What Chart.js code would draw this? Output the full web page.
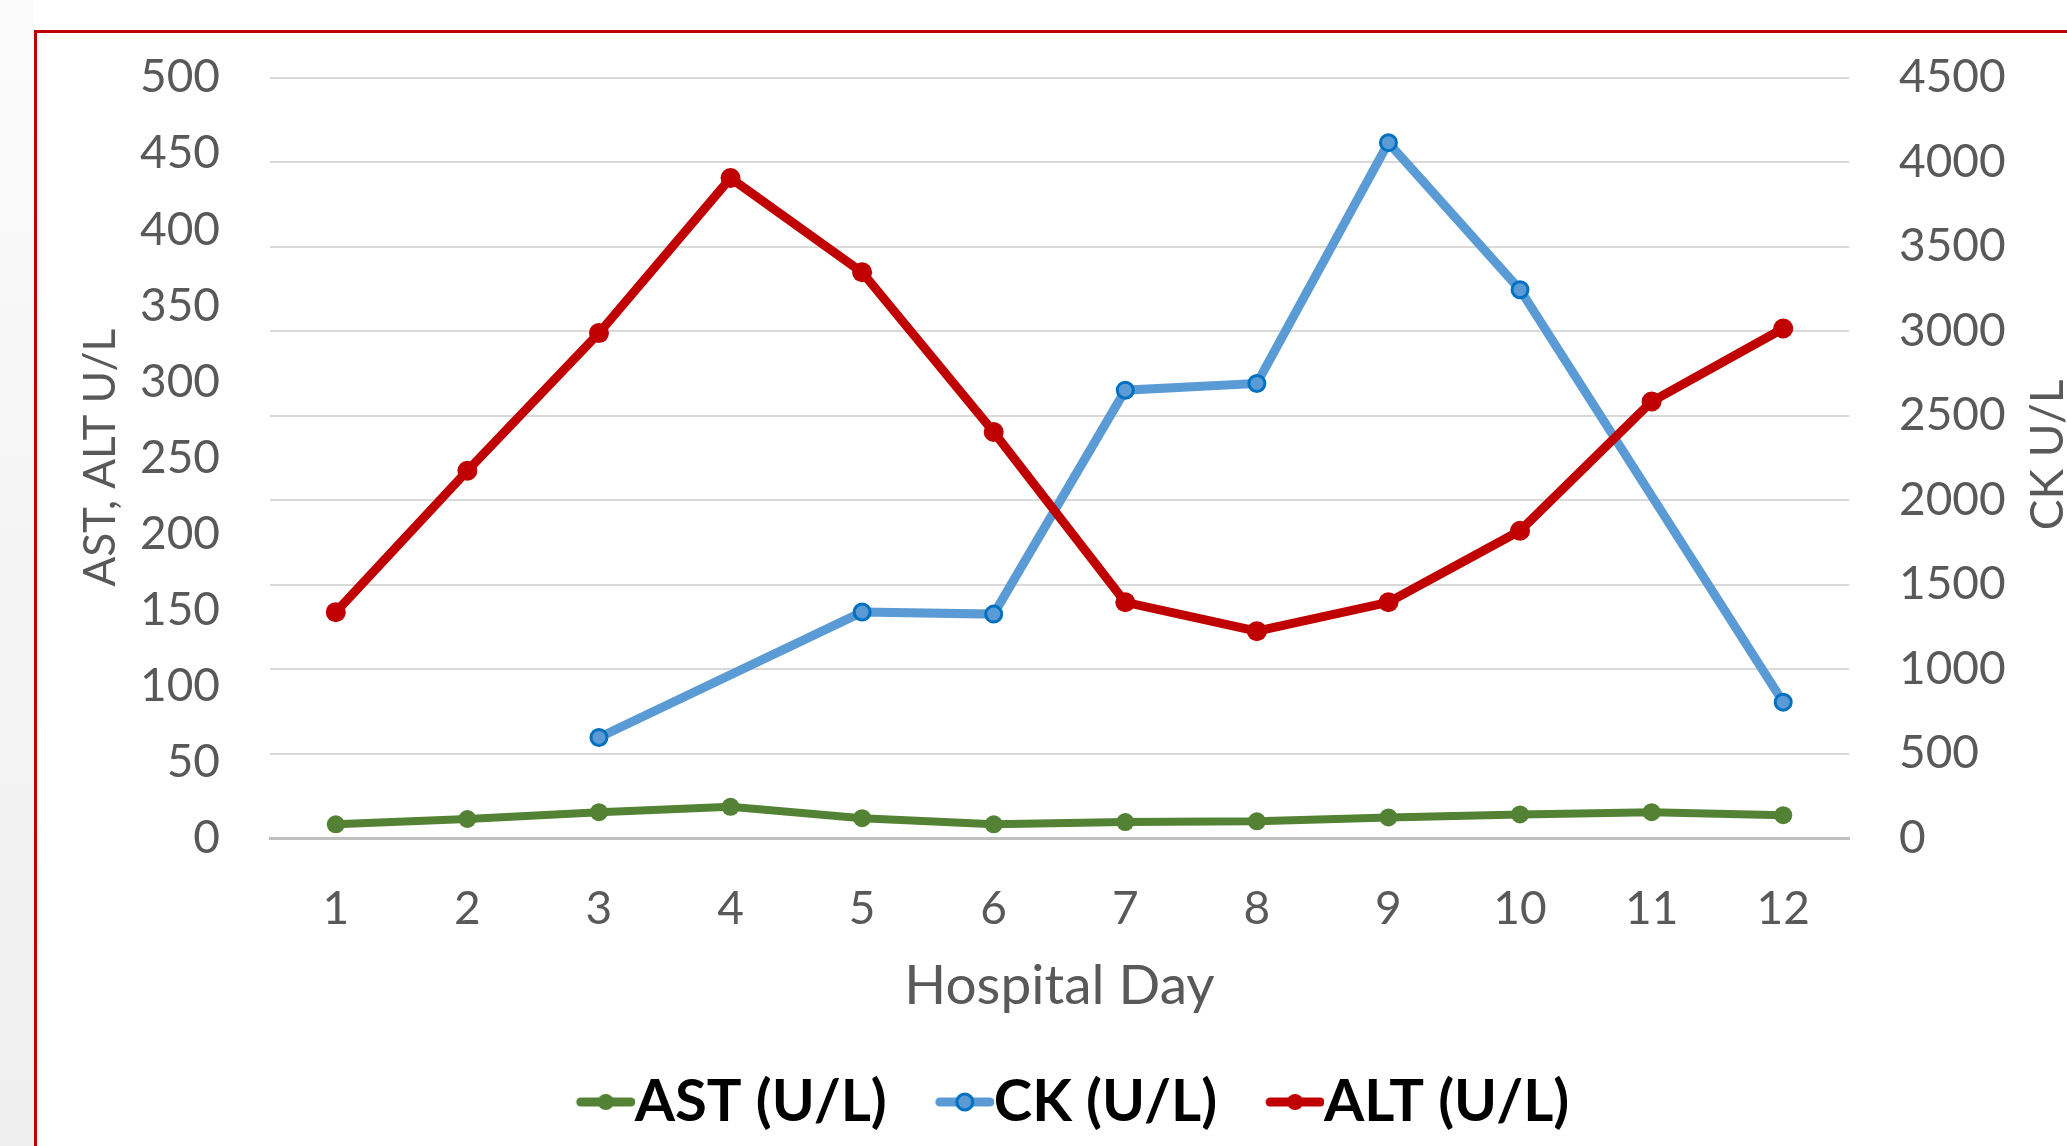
<!DOCTYPE html>
<html>
<head>
<meta charset="utf-8">
<script src="https://cdn.jsdelivr.net/npm/chart.js@4.4.1/dist/chart.umd.min.js"></script>
<style>
  html, body { margin: 0; padding: 0; background: #ffffff; overflow: hidden; }
  #page { position: relative; width: 2067px; height: 1146px; }
  #side { position: absolute; left: 0; top: 0; width: 34px; height: 1146px;
          background: linear-gradient(180deg, #fbfbfb 0%, #f3f3f3 60%, #efefef 100%); }
  #frame { position: absolute; left: 34px; top: 30px; width: 2100px; height: 1200px;
           border-left: 3px solid #c00000; border-top: 3px solid #c00000; background: #ffffff; }
  #wrap { position: absolute; left: 0; top: 0; width: 2067px; height: 1146px; }
</style>
</head>
<body>
<div id="page">
  <div id="side"></div>
  <div id="frame"></div>
  <div id="wrap"><canvas id="chart_canvas"></canvas></div>
</div>
<script>
const days = ['1', '2', '3', '4', '5', '6', '7', '8', '9', '10', '11', '12'];
const astValues = [9, 12.5, 17, 20.5, 13, 9, 10.5, 11, 13.5, 15.5, 17, 15];
const ckValues = [null, null, 595, null, 1337, 1325, 2650, 2690, 4115, 3245, null, 804];
const altValues = [148.5, 241.5, 332, 434, 372, 267, 155, 136, 155, 202, 287, 335];
const leftTicks = { min: 0, max: 500, step: 50 };
const rightTicks = { min: 0, max: 4500, step: 500 };

const GREEN = '#548235';
const BLUE = '#5b9bd5';
const BLUE_EDGE = '#0070c0';
const RED = '#c00000';
const GREY_TEXT = '#595959';

const CHART_CANVAS = document.getElementById('chart_canvas');

// legend symbol: short line with a marker, drawn into the right half so it sits next to the text
const legendSymbol = (color, fill, edge) => {
    const c = document.createElement('canvas');
    c.width = 116;
    c.height = 24;
    const g = c.getContext('2d');
    g.strokeStyle = color;
    g.lineWidth = 9;
    g.lineCap = 'round';
    g.beginPath();
    g.moveTo(62, 12);
    g.lineTo(112, 12);
    g.stroke();
    g.beginPath();
    g.arc(87, 12, 8, 0, Math.PI * 2);
    g.fillStyle = fill;
    g.fill();
    if (edge) {
        g.lineWidth = 3;
        g.strokeStyle = edge;
        g.stroke();
    }
    return c;
};
const symbols = [
    legendSymbol(GREEN, GREEN),
    legendSymbol(BLUE, BLUE, BLUE_EDGE),
    legendSymbol(RED, RED)
];

const rightTitle = {
    id: 'rightTitle',
    afterDraw(chart) {
        const ctx = chart.ctx;
        ctx.save();
        ctx.font = '46px Lato';
        ctx.fillStyle = GREY_TEXT;
        ctx.textAlign = 'center';
        ctx.textBaseline = 'alphabetic';
        ctx.translate(2063, 455);
        ctx.rotate(-Math.PI / 2);
        ctx.fillText('CK U/L', 0, 0);
        ctx.restore();
    }
};

const data = {
    labels: days,
    datasets: [
        {
            label: 'AST (U/L)',
            data: astValues,
            yAxisID: 'y',
            borderColor: GREEN,
            backgroundColor: GREEN,
            borderWidth: 8,
            pointRadius: 9,
            pointBorderWidth: 0,
            pointBackgroundColor: GREEN,
            order: 3,
        },
        {
            label: 'CK (U/L)',
            data: ckValues,
            yAxisID: 'y2',
            spanGaps: true,
            borderColor: BLUE,
            backgroundColor: BLUE,
            borderWidth: 9,
            pointRadius: 8,
            pointBorderWidth: 3,
            pointBorderColor: BLUE_EDGE,
            pointBackgroundColor: BLUE,
            order: 2,
        },
        {
            label: 'ALT (U/L)',
            data: altValues,
            yAxisID: 'y',
            borderColor: RED,
            backgroundColor: RED,
            borderWidth: 9,
            pointRadius: 10,
            pointBorderWidth: 0,
            pointBackgroundColor: RED,
            order: 1,
        },
    ]
};

const config = {
    type: 'line',
    data: data,
    options: {
        responsive: true,
        maintainAspectRatio: false,
        animation: false,
        layout: { padding: { left: 50, right: 0, top: 76, bottom: 5 } },
        plugins: {
            legend: {
                position: 'bottom',
                labels: {
                    usePointStyle: true,
                    pointStyleWidth: 58,
                    padding: 20,
                    color: '#000000',
                    font: { family: 'Lato', size: 58, weight: 'bold' },
                    generateLabels: (chart) => {
                        const items = Chart.defaults.plugins.legend.labels.generateLabels(chart);
                        items.sort((a, b) => a.datasetIndex - b.datasetIndex);
                        items.forEach(it => { it.pointStyle = symbols[it.datasetIndex]; });
                        return items;
                    }
                }
            },
            tooltip: { enabled: false },
            title: { display: false }
        },
        scales: {
            x: {
                offset: true,
                grid: { display: false, drawTicks: false, offset: true },
                border: { display: true, color: '#bfbfbf', width: 3 },
                ticks: { color: GREY_TEXT, font: { family: 'Lato', size: 46 }, padding: 44 },
                title: {
                    display: true,
                    text: 'Hospital Day',
                    color: GREY_TEXT,
                    font: { family: 'Lato', size: 55 },
                    padding: { top: 0, bottom: 34 }
                },
                afterFit: (scale) => { scale.height = 215; }
            },
            y: {
                position: 'left',
                min: leftTicks.min,
                max: leftTicks.max,
                grid: { display: false, drawTicks: false },
                border: { display: false },
                ticks: { stepSize: leftTicks.step, color: GREY_TEXT, font: { family: 'Lato', size: 46 }, padding: 50 },
                title: {
                    display: true,
                    text: 'AST, ALT U/L',
                    color: GREY_TEXT,
                    font: { family: 'Lato', size: 44 },
                    padding: { top: 24, bottom: 0 }
                },
                afterFit: (scale) => { scale.width = 220; }
            },
            y2: {
                position: 'right',
                min: rightTicks.min,
                max: rightTicks.max,
                grid: { drawOnChartArea: true, drawTicks: false, color: '#d9d9d9', lineWidth: 2 },
                border: { display: false },
                ticks: {
                    stepSize: rightTicks.step,
                    color: GREY_TEXT,
                    font: { family: 'Lato', size: 46 },
                    padding: 50,
                    callback: (v) => String(v)
                },
                afterFit: (scale) => { scale.width = 218; }
            }
        }
    },
    plugins: [rightTitle]
};

const myChart = new Chart(CHART_CANVAS, config);
</script>
</body>
</html>
